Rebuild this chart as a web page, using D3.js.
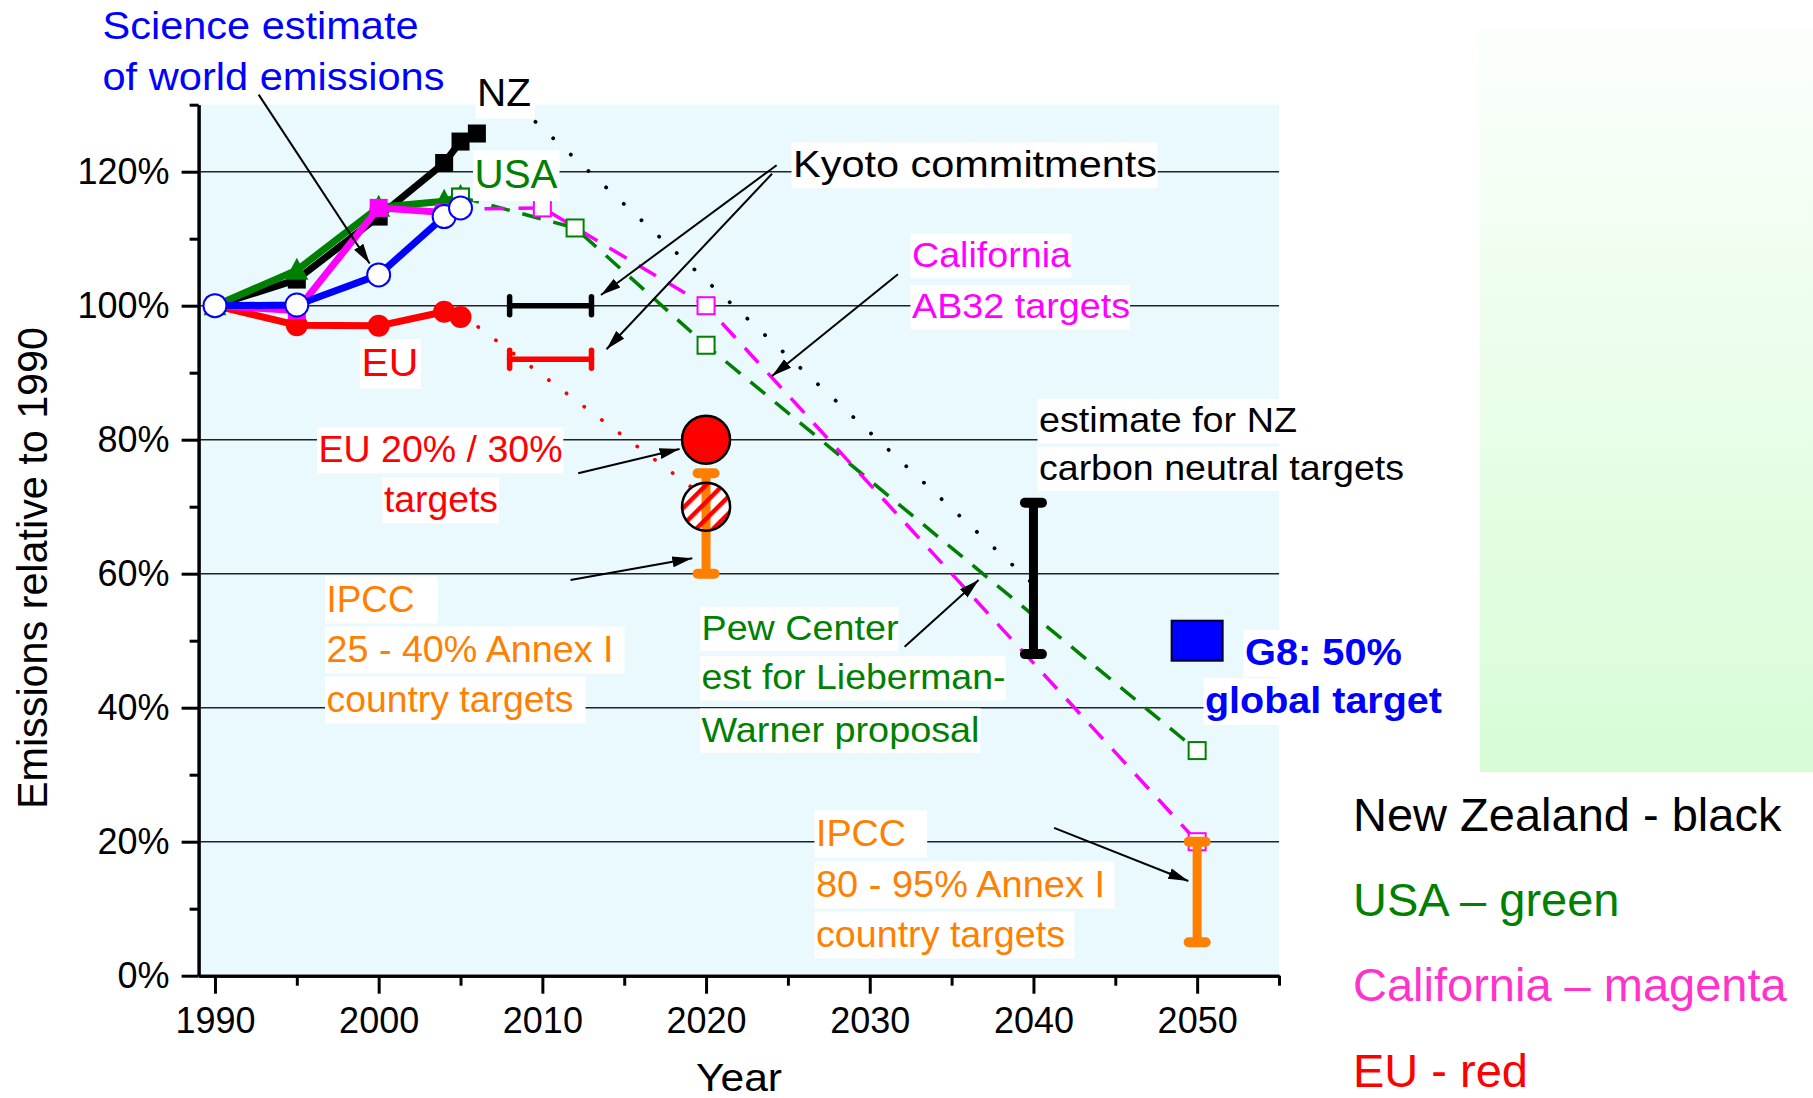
<!DOCTYPE html>
<html><head><meta charset="utf-8">
<script src="https://cdn.jsdelivr.net/npm/d3@7"></script>
<style>
html,body{margin:0;padding:0;background:#fff;}
svg{display:block;}
text{font-family:"Liberation Sans", Arial, sans-serif;}
</style></head><body>
<svg id="chart" width="1813" height="1098"></svg>
<script>
// ---------------- data ----------------
const histYears    = [1990, 1995, 2000, 2004, 2005];
const nzYears      = [1990, 1995, 2000, 2004, 2005, 2006];
const nzValues     = [100, 103.9, 113.3, 121.3, 124.5, 125.7];
const usaValues    = [100, 105.3, 114.7, 115.6, 116.3];
const caYears      = [1990, 1995, 2000, 2004];
const caValues     = [100, 99.3, 114.6, 113.9];
const worldValues  = [100, 100.1, 104.6, 113.3, 114.6];
const euValues     = [100, 97.1, 97.0, 99.1, 98.3];
const usaProjYears = [2005, 2012, 2020, 2050];
const usaProjValues= [116.2, 111.6, 94.1, 33.6];
const caProjYears  = [2005, 2010, 2020, 2050];
const caProjValues = [114.4, 114.6, 100, 20];
const nzTrendYears = [2008.5, 2040];
const nzTrendValues= [129.9, 58.4];
const euTrendYears = [2005, 2022];
const euTrendValues= [98.8, 67.6];
const kyotoPeriod  = [2008, 2013];
const kyotoNZ = 100, kyotoEU = 92;
const euTargetYear = 2020;
const euTargets    = [80, 70];
const ipccYears    = [2020, 2050];
const ipccRanges   = [[60, 75], [5, 20]];
const nzNeutralYear = 2040;
const nzNeutralRange = [48, 70.6];
const g8Year = 2050, g8Value = 50;
const yTicks = [0, 20, 40, 60, 80, 100, 120];
const yMinorTicks = [10, 30, 50, 70, 90, 110, 130];
const xTicks = [1990, 2000, 2010, 2020, 2030, 2040, 2050];
const xMinorTicks = [1995, 2005, 2015, 2025, 2035, 2045, 2055];
const legendLabels = ["New Zealand - black", "USA \u2013 green", "California \u2013 magenta", "EU - red"];
const legendColors = ["#000000", "#008000", "#ff33cc", "#ff0000"];

// ---------------- layout ----------------
const svg = d3.select("#chart");
const x = d3.scaleLinear().domain([1989, 2055]).range([198.6, 1279]);
const y = d3.scaleLinear().domain([0, 130]).range([975.7, 104.7]);
const C = {nz:"#000000", usa:"#008000", ca:"#ff00ff", world:"#0000ff", eu:"#ff0000", ipcc:"#ff8000"};

const defs = svg.append("defs");
const grad = defs.append("linearGradient").attr("id","gg").attr("x1",0).attr("y1",0).attr("x2",0).attr("y2",1);
grad.append("stop").attr("offset","0%").attr("stop-color","#fbfffb");
grad.append("stop").attr("offset","100%").attr("stop-color","#d7fcd6");
const pat = defs.append("pattern").attr("id","hatch").attr("patternUnits","userSpaceOnUse")
  .attr("width",12).attr("height",12).attr("patternTransform","rotate(45)");
pat.append("rect").attr("width",4.5).attr("height",12).attr("fill","#ff0000");
defs.append("marker").attr("id","ah").attr("markerUnits","userSpaceOnUse")
  .attr("markerWidth",22).attr("markerHeight",14).attr("refX",20).attr("refY",7).attr("orient","auto")
  .append("path").attr("d","M0,1.5 L20,7 L0,12.5 Z").attr("fill","#000");

// green gradient panel
svg.append("rect").attr("x",1480).attr("y",29).attr("width",333).attr("height",743).attr("fill","url(#gg)");

// plot background
svg.append("rect").attr("x",x(1989)).attr("y",y(130)).attr("width",x(2055)-x(1989)).attr("height",y(0)-y(130)).attr("fill","#e9f9fd");

// gridlines
svg.append("g").selectAll("line").data(yTicks.filter(d=>d>0)).join("line")
  .attr("x1",x(1989)).attr("x2",x(2055)).attr("y1",d=>y(d)).attr("y2",d=>y(d))
  .attr("stroke","#222").attr("stroke-width",1.5);

// ---------------- axes ----------------
function styleAxis(g, fs){
  g.select(".domain").attr("stroke","#000").attr("stroke-width",3);
  g.selectAll(".tick line").attr("stroke","#000").attr("stroke-width",3);
  g.selectAll(".tick text").attr("font-size",fs).attr("fill","#000").attr("font-family","'Liberation Sans', Arial, sans-serif");
}
const yMinor = svg.append("g").attr("transform",`translate(${x(1989)},0)`)
  .call(d3.axisLeft(y).tickValues(yMinorTicks).tickSize(9).tickSizeOuter(0).tickFormat(""));
styleAxis(yMinor, 36);
const yMajor = svg.append("g").attr("transform",`translate(${x(1989)},0)`)
  .call(d3.axisLeft(y).tickValues(yTicks).tickSize(17).tickSizeOuter(0).tickPadding(12).tickFormat(d=>d+"%"));
styleAxis(yMajor, 36);
const xMinor = svg.append("g").attr("transform",`translate(0,${y(0)})`)
  .call(d3.axisBottom(x).tickValues(xMinorTicks).tickSize(10).tickSizeOuter(0).tickFormat(""));
styleAxis(xMinor, 36);
const xMajor = svg.append("g").attr("transform",`translate(0,${y(0)})`)
  .call(d3.axisBottom(x).tickValues(xTicks).tickSize(18).tickSizeOuter(0).tickPadding(14).tickFormat(d3.format("d")));
styleAxis(xMajor, 36);

// axis titles
svg.append("text").attr("transform","translate(47,568) rotate(-90)").attr("text-anchor","middle")
  .attr("font-size",42).attr("textLength",482).attr("lengthAdjust","spacingAndGlyphs").text("Emissions relative to 1990");
svg.append("text").attr("x",739).attr("y",1091).attr("text-anchor","middle")
  .attr("font-size",38).attr("textLength",86).attr("lengthAdjust","spacingAndGlyphs").text("Year");

// ---------------- series ----------------
const line = d3.line().x(d=>x(d[0])).y(d=>y(d[1]));
const zip = (a,b)=>a.map((v,i)=>[v,b[i]]);
const plot = svg.append("g");

// projections (dotted / dashed)
plot.append("path").attr("d",line(zip(nzTrendYears,nzTrendValues))).attr("fill","none")
  .attr("stroke",C.nz).attr("stroke-width",3.8).attr("stroke-linecap","round").attr("stroke-dasharray","0.1 24");
plot.append("path").attr("d",line(zip(euTrendYears,euTrendValues))).attr("fill","none")
  .attr("stroke",C.eu).attr("stroke-width",3.8).attr("stroke-linecap","round").attr("stroke-dasharray","0.1 22");
plot.append("path").attr("d",line(zip(usaProjYears,usaProjValues))).attr("fill","none")
  .attr("stroke",C.usa).attr("stroke-width",3.5).attr("stroke-dasharray","19 13");
plot.append("path").attr("d",line(zip(caProjYears,caProjValues))).attr("fill","none")
  .attr("stroke",C.ca).attr("stroke-width",3.5).attr("stroke-dasharray","20 14").attr("stroke-dashoffset",10);

// open projection squares
function openSquares(ys, vs, col){
  plot.append("g").selectAll("rect").data(zip(ys,vs)).join("rect")
    .attr("x",d=>x(d[0])-8.5).attr("y",d=>y(d[1])-8.5).attr("width",17).attr("height",17)
    .attr("fill","#fff").attr("stroke",col).attr("stroke-width",2);
}
openSquares(usaProjYears, usaProjValues, C.usa);
openSquares(caProjYears.slice(1), caProjValues.slice(1), C.ca);

// historical solid lines + markers
function solid(ys, vs, col){
  plot.append("path").attr("d",line(zip(ys,vs))).attr("fill","none").attr("stroke",col)
    .attr("stroke-width",7).attr("stroke-linejoin","round");
}
// NZ
solid(nzYears, nzValues, C.nz);
plot.append("g").selectAll("rect").data(zip(nzYears,nzValues)).join("rect")
  .attr("x",d=>x(d[0])-9).attr("y",d=>y(d[1])-9).attr("width",18).attr("height",18).attr("fill",C.nz);
// USA
solid(histYears, usaValues, C.usa);
plot.append("g").selectAll("path").data(zip(histYears,usaValues)).join("path")
  .attr("transform",d=>`translate(${x(d[0])},${y(d[1])})`).attr("d","M0,-12.5L11.5,9.5L-11.5,9.5Z").attr("fill",C.usa);
// re-draw USA 2005 square on top
openSquares([usaProjYears[0]],[usaProjValues[0]],C.usa);
// EU
solid(histYears, euValues, C.eu);
plot.append("g").selectAll("circle").data(zip(histYears,euValues)).join("circle")
  .attr("cx",d=>x(d[0])).attr("cy",d=>y(d[1])).attr("r",11).attr("fill",C.eu);
// California
solid(caYears, caValues, C.ca);
plot.append("g").selectAll("rect").data(zip(caYears,caValues)).join("rect")
  .attr("x",d=>x(d[0])-9).attr("y",d=>y(d[1])-9).attr("width",18).attr("height",18).attr("fill",C.ca);
// World (science estimate)
solid(histYears, worldValues, C.world);
plot.append("g").selectAll("circle").data(zip(histYears,worldValues)).join("circle")
  .attr("cx",d=>x(d[0])).attr("cy",d=>y(d[1])).attr("r",11.5).attr("fill","#fff").attr("stroke",C.world).attr("stroke-width",2);

// Kyoto commitments
function hbar(y0, col){
  const g = plot.append("g").attr("stroke",col).attr("stroke-width",5.5).attr("stroke-linecap","round");
  g.append("line").attr("x1",x(kyotoPeriod[0])).attr("x2",x(kyotoPeriod[1])).attr("y1",y(y0)).attr("y2",y(y0));
  kyotoPeriod.forEach(t=>g.append("line").attr("x1",x(t)).attr("x2",x(t)).attr("y1",y(y0)-9).attr("y2",y(y0)+9));
}
hbar(kyotoNZ, C.nz);
hbar(kyotoEU, C.eu);

// vertical range bars
function vbar(t, range, col){
  const g = plot.append("g").attr("stroke",col).attr("stroke-linecap","round");
  g.append("line").attr("x1",x(t)).attr("x2",x(t)).attr("y1",y(range[0])).attr("y2",y(range[1])).attr("stroke-width",9).attr("stroke-linecap","butt");
  range.forEach(v=>g.append("line").attr("x1",x(t)-8.5).attr("x2",x(t)+8.5).attr("y1",y(v)).attr("y2",y(v)).attr("stroke-width",10));
}
// EU targets 2020
plot.append("circle").attr("cx",x(euTargetYear)).attr("cy",y(euTargets[1])).attr("r",24).attr("fill","#fff");
vbar(ipccYears[0], ipccRanges[0], C.ipcc);
plot.append("circle").attr("cx",x(euTargetYear)).attr("cy",y(euTargets[1])).attr("r",24).attr("fill","url(#hatch)");
plot.append("circle").attr("cx",x(euTargetYear)).attr("cy",y(euTargets[1])).attr("r",24).attr("fill","none").attr("stroke","#000").attr("stroke-width",2.5);
plot.append("circle").attr("cx",x(euTargetYear)).attr("cy",y(euTargets[0])).attr("r",24).attr("fill",C.eu).attr("stroke","#000").attr("stroke-width",2.5);
// IPCC 2050
vbar(ipccYears[1], ipccRanges[1], C.ipcc);
// NZ carbon neutral
vbar(nzNeutralYear, nzNeutralRange, C.nz);
// G8
plot.append("rect").attr("x",x(g8Year)-25.5).attr("y",y(g8Value)-20).attr("width",51).attr("height",40)
  .attr("fill","#0000ff").attr("stroke","#000033").attr("stroke-width",2);

// ---------------- annotations ----------------
const annotations = [
  {fs:39, color:"#0000ff", box:false, lines:[["Science estimate",102.5,39.3,316],["of world emissions",102.5,90,342]]},
  {fs:39, color:"#000", lines:[["NZ",477,106,54,535]]},
  {fs:40, color:"#008000", lines:[["USA",474.5,188.3,83,559.5]]},
  {fs:39, color:"#ff0000", lines:[["EU",361.5,376,57,421]]},
  {fs:36, color:"#000", lines:[["Kyoto commitments",793,176.7,364,1157.7]]},
  {fs:35, color:"#ff00ff", lines:[["California",912,266.7,159,1071.4],["AB32 targets",912,318.3,218,1130]]},
  {fs:36, color:"#ff0000", lines:[["EU 20% / 30%",318.5,461.7,244,563.3],["targets",384,511.7,114,499]]},
  {fs:37, color:"#ff8000", lines:[["IPCC",326.5,611.7,88,437.8],["25 - 40% Annex I",326.5,661.7,287,624.6],["country targets",326.5,711.7,247,585.5]]},
  {fs:35, color:"#000", lines:[["estimate for NZ",1039,432.3,258,1300],["carbon neutral targets",1039,480,365,1405]]},
  {fs:35, color:"#008000", lines:[["Pew Center",701.5,640,197,898.5],["est for Lieberman-",701.5,689.3,304,1006],["Warner proposal",701.5,741.7,278,980.6]]},
  {fs:37, color:"#0000ff", bold:true, lines:[["G8: 50%",1245,665,157,1410],["global target",1205,713.3,237,1445]]},
  {fs:37, color:"#ff8000", lines:[["IPCC",816,845.7,90,927.2],["80 - 95% Annex I",816,896.7,289,1114.7],["country targets",816,946.7,249,1074.3]]}
];
const ann = svg.append("g");
annotations.forEach(a=>{
  a.lines.forEach(l=>{
    const [t, lx, base, w, right] = l;
    if (a.box !== false) {
      ann.append("rect").attr("x",lx-1.5).attr("y",base-0.95*a.fs).attr("width",right-lx+1.5).attr("height",1.27*a.fs).attr("fill","#fff");
    }
  });
  a.lines.forEach(l=>{
    const [t, lx, base, w] = l;
    ann.append("text").attr("x",lx).attr("y",base).attr("font-size",a.fs).attr("fill",a.color)
      .attr("font-weight",a.bold?"bold":"normal")
      .attr("textLength",w).attr("lengthAdjust","spacingAndGlyphs").text(t);
  });
});

// arrows: [tailYear, tailValue, tipYear, tipValue]
const arrows = [
  [1992.67, 131.5, 1999.45, 106.3],
  [2024.31, 120.96, 2013.58, 101.6],
  [2024.03, 119.7, 2013.92, 93.5],
  [2031.72, 104.7, 2024.03, 89.5],
  [2012.19, 75.0, 2018.38, 78.6],
  [2011.72, 59.06, 2019.16, 62.3],
  [2032.13, 49.1, 2036.65, 59.06],
  [2041.26, 22.06, 2049.46, 14.13]
];
svg.append("g").selectAll("line").data(arrows).join("line")
  .attr("x1",d=>x(d[0])).attr("y1",d=>y(d[1])).attr("x2",d=>x(d[2])).attr("y2",d=>y(d[3]))
  .attr("stroke","#000").attr("stroke-width",2).attr("marker-end","url(#ah)");

// legend
svg.append("g").selectAll("text").data(legendLabels).join("text")
  .attr("x",1353).attr("y",(d,i)=>831+i*85.2).attr("font-size",47).attr("fill",(d,i)=>legendColors[i]).text(d=>d);
</script>
</body></html>
